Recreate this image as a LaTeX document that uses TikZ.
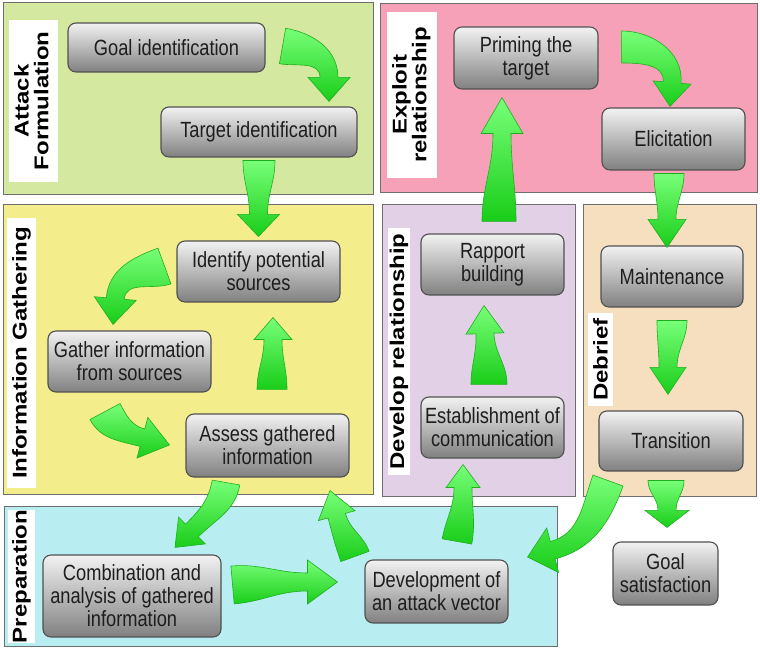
\documentclass[tikz,border=0pt]{standalone}
\usepackage{fontspec}
\setmainfont[FakeStretch=0.83]{Liberation Sans}
\newfontfamily\labelfont{Liberation Sans}
\usetikzlibrary{calc}
\definecolor{afgreen}{RGB}{213,232,160}
\definecolor{erpink}{RGB}{247,161,185}
\definecolor{igyellow}{RGB}{243,237,140}
\definecolor{drpurple}{RGB}{225,208,230}
\definecolor{dborange}{RGB}{246,223,190}
\definecolor{prcyan}{RGB}{184,238,242}
\definecolor{regionedge}{RGB}{110,110,110}
\definecolor{procedge}{RGB}{80,80,80}
\definecolor{proctop}{RGB}{242,242,242}
\definecolor{procbot}{RGB}{128,128,128}
\definecolor{proctext}{RGB}{30,30,30}
\definecolor{arrowlight}{RGB}{120,255,120}
\definecolor{arrowdark}{RGB}{25,205,25}
\definecolor{arrowedge}{RGB}{30,175,30}
\tikzset{
  proc/.style={draw=procedge, line width=1.1pt, rounded corners=8pt,
    top color=proctop, bottom color=procbot, align=center, inner sep=0pt,
    font=\fontsize{22}{23}\selectfont, text=proctext},
  region/.style={draw=regionedge, line width=1pt},
  labeltext/.style={rotate=90, inner sep=0pt, font=\labelfont\bfseries\fontsize{24}{22}\selectfont, text=black},
  arrowfill/.style={top color=arrowlight, bottom color=arrowdark, draw=arrowedge, line width=0.6pt},
}
% #1 tail, #2 tip, #3 tail direction, #4 tip direction, #5 tail half width, #6 head half width, #7 head length
\newcommand\garrow[7]{%
  \coordinate (gT) at (#1);
  \coordinate (gP) at (#2);
  \pgfmathsetmacro\gA{#3}%
  \pgfmathsetmacro\gAl{#3+90}%
  \pgfmathsetmacro\gAr{#3-90}%
  \pgfmathsetmacro\gD{#4}%
  \pgfmathsetmacro\gDb{#4+180}%
  \pgfmathsetmacro\gDl{#4+90}%
  \pgfmathsetmacro\gDr{#4-90}%
  \coordinate (gH) at ($(gP)+(\gDb:#7)$);
  \path[arrowfill] ($(gT)+(\gAl:#5)$) to[out=\gA,in=\gDb] ($(gH)+(\gDl:9)$)
    -- ($(gH)+(\gDl:#6)$) -- (gP) -- ($(gH)+(\gDr:#6)$) -- ($(gH)+(\gDr:9)$)
    to[out=\gDb,in=\gA] ($(gT)+(\gAr:#5)$) -- cycle;
}
\begin{document}
\begin{tikzpicture}[x=1pt,y=1pt]
\useasboundingbox (0,0) rectangle (760,652);
% regions
\filldraw[region, fill=afgreen] (3,457) rectangle (373,649);
\filldraw[region, fill=erpink] (380,459) rectangle (757,648);
\filldraw[region, fill=igyellow] (3,157) rectangle (373,447);
\filldraw[region, fill=drpurple] (382,155) rectangle (575,447);
\filldraw[region, fill=dborange] (583,155) rectangle (756,447);
\filldraw[region, fill=prcyan] (4,5) rectangle (557,145);
% label backgrounds
\fill[white] (9,470) rectangle (58,632);
\fill[white] (387,474) rectangle (437,640);
\fill[white] (7,164) rectangle (36,434);
\fill[white] (388,177) rectangle (410,424);
\fill[white] (588,246) rectangle (613,339);
\fill[white] (8,9) rectangle (35,142);
% labels
\node[labeltext] (lAF) at (34,551) {\scalebox{1}[0.83]{\begin{tabular}{@{}c@{}}Attack\\Formulation\end{tabular}}};
\node[labeltext] (lER) at (412,557) {\scalebox{1}[0.83]{\begin{tabular}{@{}c@{}}Exploit\\relationship\end{tabular}}};
\node[labeltext] (lIG) at (21.5,299) {\scalebox{1}[0.83]{Information Gathering}};
\node[labeltext] (lDR) at (399,300.5) {\scalebox{1}[0.83]{Develop relationship}};
\node[labeltext] (lDB) at (600.5,292.5) {\scalebox{1}[0.83]{Debrief}};
\node[labeltext] (lPR) at (21.5,75.5) {\scalebox{1}[0.83]{Preparation}};
% process nodes
\node[proc, minimum width=197, minimum height=49] (goal) at (166.5,604.5) {Goal identification};
\node[proc, minimum width=196, minimum height=50] (target) at (259,520) {Target identification};
\node[proc, minimum width=144, minimum height=62] (priming) at (526,594) {Priming the\\target};
\node[proc, minimum width=143, minimum height=62] (elicit) at (673.5,513) {Elicitation};
\node[proc, minimum width=163, minimum height=61] (identify) at (258.5,380.5) {Identify potential\\sources};
\node[proc, minimum width=163, minimum height=61] (gather) at (129.5,290.5) {Gather information\\from sources};
\node[proc, minimum width=163, minimum height=63] (assess) at (267.5,206.5) {Assess gathered\\information};
\node[proc, minimum width=143, minimum height=61] (rapport) at (492.5,387.5) {Rapport\\building};
\node[proc, minimum width=143, minimum height=61] (establish) at (492.5,224.5) {Establishment of\\communication};
\node[proc, minimum width=142, minimum height=61] (maint) at (672,375.5) {Maintenance};
\node[proc, minimum width=144, minimum height=60] (transition) at (671,211) {Transition};
\node[proc, minimum width=178, minimum height=82] (combination) at (132,56) {Combination and\\analysis of gathered\\information};
\node[proc, minimum width=143, minimum height=63] (development) at (436.5,60.5) {Development of\\an attack vector};
\node[proc, minimum width=105, minimum height=63] (goalsat) at (665.5,78.5) {Goal\\satisfaction};
% arrows
\garrow{$(goal.east)+(17,1.5)$}{$(target.north)+(70,5)$}{-10}{-90}{18}{21}{24}
\garrow{$(target.south)+(0,-3)$}{$(identify.north)+(0,4)$}{-90}{-90}{16}{21}{22}
\garrow{$(identify.west)+(-12,5.5)$}{$(gather.north)+(-16.5,6)$}{200}{-95}{19}{21}{26}
\garrow{$(gather.south)+(-24.5,-19)$}{$(assess.west)+(-16,0.5)$}{-62}{-15}{17}{21}{28}
\garrow{$(assess.north)+(4.5,24)$}{$(identify.south)+(14.5,-15)$}{90}{90}{15}{19}{22}
\garrow{$(assess.south)+(-41.5,-5)$}{$(combination.north)+(43,7)$}{-100}{-135}{14}{19}{24}
\garrow{$(combination.east)+(11,11)$}{$(development.west)+(-27,9.5)$}{5}{0}{19}{22}{30}
\garrow{$(development.north)+(-81.5,3)$}{$(assess.south)+(62.5,-13)$}{110}{105}{15}{19}{26}
\garrow{$(development.north)+(20.5,18)$}{$(establish.south)+(-29.5,-6)$}{80}{90}{15}{17}{23}
\garrow{$(establish.north)+(-3.5,12)$}{$(rapport.south)+(-8.5,-10)$}{90}{92}{18}{19}{28}
\garrow{$(rapport.north)+(6.5,12)$}{$(priming.south)+(-24,-8)$}{90}{90}{17}{21}{36}
\garrow{$(priming.east)+(23,11)$}{$(elicit.north)+(-3.5,1)$}{0}{-95}{16}{19}{24}
\garrow{$(elicit.south)+(-4.5,-3)$}{$(maint.north)+(-5,-2)$}{-90}{-90}{15}{19}{28}
\garrow{$(maint.south)+(0,-13)$}{$(transition.north)+(-3,16)$}{-90}{-90}{15}{18}{27}
\garrow{$(transition.south)+(-63,-9)$}{$(development.east)+(19,34.5)$}{-110}{-165}{16}{23}{26}
\garrow{$(transition.south)+(-5,-9)$}{$(goalsat.north)+(1.5,14)$}{-90}{-90}{18}{22}{17}
\end{tikzpicture}
\end{document}
